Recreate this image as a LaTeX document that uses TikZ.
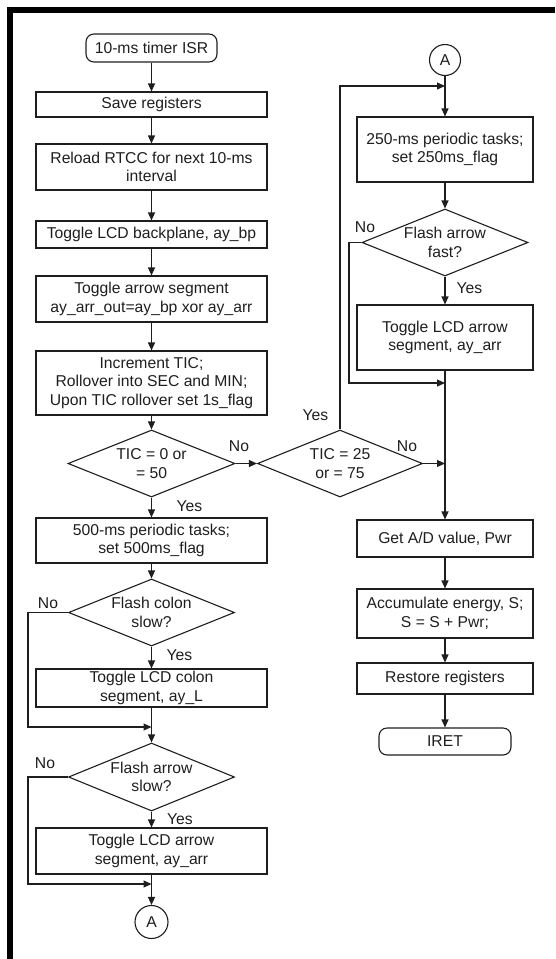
\documentclass[tikz,border=0pt]{standalone}
\usepackage{fontspec}
\setmainfont{Liberation Sans}
\usetikzlibrary{shapes.geometric,arrows.meta}
\definecolor{ink}{HTML}{1E1E1E}
\begin{document}
\begin{tikzpicture}[x=1pt,y=-1pt,
  every node/.style={font=\fontsize{15.7}{18.5}\selectfont, text=ink},
  box/.style={draw=ink, line width=1.1pt, align=center, inner sep=1pt, minimum width=231pt},
  rbox/.style={box, minimum width=176pt},
  term/.style={draw=ink, line width=1.1pt, rounded corners=8pt, align=center, inner sep=1pt},
  decision/.style={draw=ink, line width=1.1pt, diamond, aspect=2.5, inner sep=0pt,
                   align=center, minimum width=167pt, minimum height=67pt},
  conn/.style={draw=ink, line width=1.1pt, circle, inner sep=0pt, minimum size=32pt},
  flow/.style={draw=ink, line width=1.1pt, -{Triangle[length=8pt,width=7pt]}},
  lbl/.style={inner sep=0pt}
]
\useasboundingbox (0,0) rectangle (555,959);

% heavy frame along the top and left edges
\fill[black] (7,7) rectangle (555,13);
\fill[black] (7,7) rectangle (13,959);

% ---- left column ----
\node[term, minimum width=131pt, minimum height=28pt] (start) at (151.5,48) {10-ms timer ISR};
\node[box, minimum height=25pt] (save) at (151.5,104.5) {Save registers};
\node[box, minimum height=46pt] (reload) at (151.5,167) {Reload RTCC for next 10-ms\\interval};
\node[box, minimum height=27pt] (bp) at (151.5,234.5) {Toggle LCD backplane, ay\_bp};
\node[box, minimum height=46pt] (seg) at (151.5,299) {Toggle arrow segment\\ay\_arr\_out=ay\_bp xor ay\_arr};
\node[box, minimum height=64pt] (tic) at (151.5,383) {Increment TIC;\\Rollover into SEC and MIN;\\Upon TIC rollover set 1s\_flag};
\node[decision] (d1) at (151.5,463.5) {TIC = 0 or\\= 50};
\node[box, minimum height=45pt] (p500) at (151.5,540.5) {500-ms periodic tasks;\\set 500ms\_flag};
\node[decision, minimum width=166pt] (d2) at (151.5,612.5) {Flash colon\\slow?};
\node[box, minimum height=38pt] (colon) at (151.5,688) {Toggle LCD colon\\segment, ay\_L};
\node[decision, minimum width=166pt, minimum height=68pt] (d3) at (151.5,777) {Flash arrow\\slow?};
\node[box, minimum height=46pt] (arrL) at (151.5,851) {Toggle LCD arrow\\segment, ay\_arr};
\node[conn, minimum size=33pt] (aL) at (151.5,922) {A};

% ---- right column ----
\node[conn, minimum size=31pt] (aR) at (445,60) {A};
\node[rbox, minimum height=65pt] (p250) at (445,149.5) {250-ms periodic tasks;\\set 250ms\_flag};
\node[decision, minimum width=166pt] (d4) at (445,242.5) {Flash arrow\\fast?};
\node[rbox, minimum height=65pt] (arrR) at (445,337.5) {Toggle LCD arrow\\segment, ay\_arr};
\node[decision, minimum width=165pt] (d5) at (340,463.5) {TIC = 25\\or = 75};
\node[rbox, minimum height=37pt] (getad) at (445,538.5) {Get A/D value, Pwr};
\node[rbox, minimum height=49pt] (acc) at (445,613.5) {Accumulate energy, S;\\S = S + Pwr;};
\node[rbox, minimum height=31pt] (rest) at (445,678.5) {Restore registers};
\node[term, minimum width=132pt, minimum height=27pt] (iret) at (445,741.5) {IRET};

% junctions and bends
\coordinate (jL1) at (151.5,727);
\coordinate (jL2) at (151.5,884);
\coordinate (bL1) at (28,727);
\coordinate (bL2) at (28,884);
\coordinate (jR0) at (445,86);
\coordinate (jR1) at (445,383);
\coordinate (jR2) at (445,463.5);
\coordinate (bR1) at (349,383);

% ---- left connectors ----
\draw[flow] (start) -- (save);
\draw[flow] (save) -- (reload);
\draw[flow] (reload) -- (bp);
\draw[flow] (bp) -- (seg);
\draw[flow] (seg) -- (tic);
\draw[flow] (tic) -- (d1);
\draw[flow] (d1.east) -- (d5.west);
\draw[flow] (d1.south) -- (p500.north);
\draw[flow] (p500) -- (d2);
\draw[flow] (d2.south) -- (colon.north);
\draw[flow] (colon.south) -- (d3.north);
\draw[flow] (d2.west) -| (bL1) -- (jL1);
\draw[flow] (d3.south) -- (arrL.north);
\draw[flow] (arrL.south) -- (aL.north);
\draw[flow] (d3.west) -| (bL2) -- (jL2);

% ---- right connectors ----
\draw[flow] (aR) -- (p250);
\draw[flow] (p250) -- (d4);
\draw[flow] (d4.south) -- (arrR.north);
\draw[flow] (arrR.south) -- (getad.north);
\draw[flow] (d4.west) -| (bR1) -- (jR1);
\draw[flow] (d5.north) |- (jR0);
\draw[flow] (d5.east) -- (jR2);
\draw[flow] (getad) -- (acc);
\draw[flow] (acc) -- (rest);
\draw[flow] (rest) -- (iret);

% ---- branch labels ----
\node[lbl] (d1no) at (239,446) {No};
\node[lbl] (d1yes) at (189.5,506) {Yes};
\node[lbl] (d2no) at (48,603.5) {No};
\node[lbl] (d2yes) at (179.5,655) {Yes};
\node[lbl] (d3no) at (45,763) {No};
\node[lbl] (d3yes) at (180,819) {Yes};
\node[lbl] (d4no) at (365,227) {No};
\node[lbl] (d4yes) at (469.5,288) {Yes};
\node[lbl] (d5no) at (407,446) {No};
\node[lbl] (d5yes) at (315.5,415) {Yes};
\end{tikzpicture}
\end{document}
